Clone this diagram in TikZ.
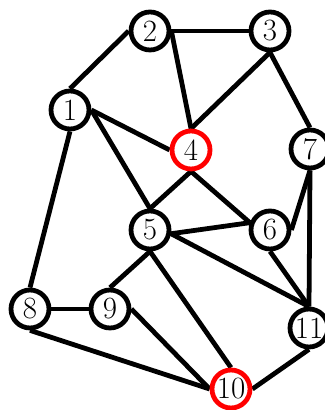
\documentclass[tikz,border=0pt]{standalone}
\usepackage{tikz}
\usetikzlibrary{backgrounds}

\tikzset{
  vertice/.style={circle, draw=black, line width=3.4pt, fill=white,
    minimum size=0.95cm, inner sep=0pt, font=\fontsize{22}{26}\selectfont},
  marcado/.style={vertice, draw=red},
  arista/.style={line width=3.4pt}
}

\begin{document}
\begin{tikzpicture}

 % --- MARCO (fija los margenes) ---
 \useasboundingbox (0,0) rectangle (8.125,10.25);

 % --- VERTICES ---
 \node[vertice] (v1) at (1.75,7.5) {1};
 \node[vertice] (v2) at (3.75,9.475) {2};
 \node[vertice] (v3) at (6.75,9.475) {3};
 \node[marcado] (v4) at (4.775,6.5) {4};
 \node[vertice] (v5) at (3.75,4.5) {5};
 \node[vertice] (v6) at (6.75,4.5) {6};
 \node[vertice] (v7) at (7.75,6.525) {7};
 \node[vertice] (v8) at (0.75,2.525) {8};
 \node[vertice] (v9) at (2.75,2.525) {9};
 \node[marcado] (v10) at (5.775,0.525) {10};
 \node[vertice] (v11) at (7.725,2.05) {11};

 % --- ARISTAS (por debajo de los vertices) ---
 \begin{pgfonlayer}{background}
 \draw[arista] (v1.north) -- (v2.west);
 \draw[arista] (v2.east) -- (v3.west);
 \draw[arista] (v2.east) -- (v4.north);
 \draw[arista] (v3.south) -- (v4.north);
 \draw[arista] (v3.south) -- (v7.north);
 \draw[arista] (v1.east) -- (v4.west);
 \draw[arista] (v1.east) -- (v5.north);
 \draw[arista] (v1.south) -- (v8.north);
 \draw[arista] (v4.south) -- (v5.north);
 \draw[arista] (v4.south) -- (v6.160);
 \draw[arista] (v5.-10) -- (v6.160);
 \draw[arista] (v5.south) -- (v9.north);
 \draw[arista] (v5.south) -- (v10.north);
 \draw[arista] (v5.-10) -- (v11.north);
 \draw[arista] (v6.east) -- (v7.south);
 \draw[arista] (v6.south) -- (v11.north);
 \draw[arista] (v7.south) -- (v11.north);
 \draw[arista] (v8.east) -- (v9.west);
 \draw[arista] (v8.south) -- (v10.west);
 \draw[arista] (v9.east) -- (v10.west);
 \draw[arista] (v10.east) -- (v11.south);
 \end{pgfonlayer}

\end{tikzpicture}
\end{document}
